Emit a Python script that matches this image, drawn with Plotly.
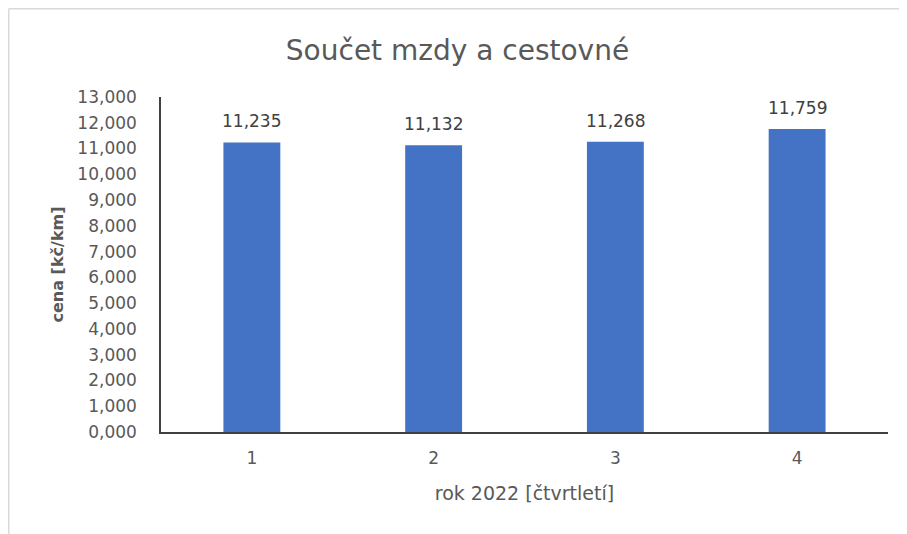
import plotly.graph_objects as go

categories = ["1", "2", "3", "4"]
values = [11.235, 11.132, 11.268, 11.759]
y_ticks = list(range(0, 14))

FONT = "DejaVu Sans"
GREY = "#595959"

W, H = 899, 526
L, R, T, B = 153, 19, 89, 102
PW, PH = W - L - R, H - T - B

fig = go.Figure()
fig.add_trace(go.Bar(
    x=categories, y=values,
    marker=dict(color="#4472C4", line=dict(width=0)),
    width=0.313,
    hoverinfo="x+y",
))
for i, v in enumerate(values):
    fig.add_annotation(x=i, y=v, text=f"{v:.3f}".replace(".", ","),
                       showarrow=False, yanchor="bottom", yshift=9,
                       font=dict(family=FONT, size=17, color="#404040"))

fig.update_layout(
    width=W, height=H,
    margin=dict(l=L, r=R, t=T, b=B),
    paper_bgcolor="white", plot_bgcolor="white",
    separators=", ",
    showlegend=False,
    title=dict(text="Součet mzdy a cestovné", x=0.5, xanchor="center",
               y=1 - 42 / H, yanchor="middle",
               font=dict(family=FONT, size=28, color=GREY)),
)
fig.update_xaxes(
    type="category",
    showline=True, linecolor="#404040", linewidth=1.5,
    ticks="outside", ticklen=10, tickcolor="rgba(0,0,0,0)",
    tickfont=dict(family=FONT, size=17, color=GREY),
    title=dict(text="rok 2022 [čtvrtletí]", standoff=20,
               font=dict(family=FONT, size=19, color=GREY)),
    showgrid=False,
)
fig.update_yaxes(
    range=[0, 13], tickvals=y_ticks, tickformat=".3f",
    showline=True, linecolor="#404040", linewidth=1.5,
    ticks="outside", ticklen=19, tickcolor="rgba(0,0,0,0)",
    tickfont=dict(family=FONT, size=17, color=GREY),
    showgrid=False, zeroline=False,
    title=dict(text="<b>cena [kč/km]</b>", standoff=10,
               font=dict(family=FONT, size=16, color=GREY)),
)
# chart area frame (left and top edges)
fx = (0.75 - L) / PW
fy = 1 + (T - 0.75) / PH
fig.add_shape(type="line", xref="paper", yref="paper",
              x0=fx, x1=fx, y0=-B / PH, y1=fy,
              line=dict(color="#D9D9D9", width=1.5))
fig.add_shape(type="line", xref="paper", yref="paper",
              x0=fx, x1=(W - L) / PW, y0=fy, y1=fy,
              line=dict(color="#D9D9D9", width=1.5))

fig.write_html("out.html")
